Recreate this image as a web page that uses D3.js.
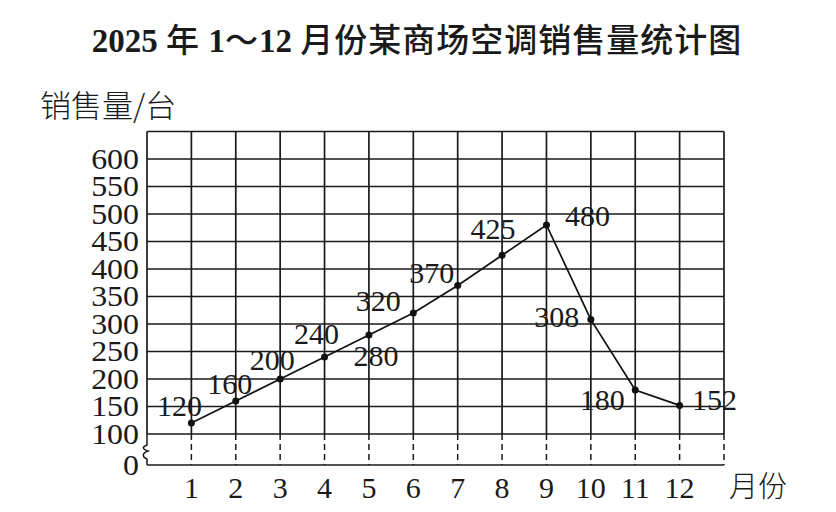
<!DOCTYPE html>
<html>
<head>
<meta charset="utf-8">
<script src="https://cdn.jsdelivr.net/npm/d3@7"></script>
<style>
    html, body { margin: 0; padding: 0; background: #fff; }
    svg { display: block; }
    .num { font-family: "Liberation Serif", "Times New Roman", serif; fill: #1a1a1a; }
    .cjk { font-family: "Noto Sans CJK SC", sans-serif; fill: #1a1a1a; }
</style>
</head>
<body>
<svg id="chart" width="836" height="512"></svg>
<script>
// dados
const months = [1, 2, 3, 4, 5, 6, 7, 8, 9, 10, 11, 12];
const sales = [120, 160, 200, 240, 280, 320, 370, 425, 480, 308, 180, 152];
const yTicks = [0, 100, 150, 200, 250, 300, 350, 400, 450, 500, 550, 600];
// título em pedaços: [texto, é número?]
const titleParts = [["2025 ", true], ["年 ", false], ["1", true], ["～", false], ["12 ", true], ["月份某商场空调销售量统计图", false]];
const yLabel = "销售量/台";
const xLabel = "月份";

// deslocamento de cada rótulo em relação ao ponto (layout apenas)
const labelOffsets = [
    [-12, -17], [-6, -17], [-8, -19], [-8, -23], [7, 21], [-35, -12],
    [-26, -13], [-9, -26], [41, -9], [-34, -3], [-33, 10], [35, -5]
];

const svg = d3.select('#chart');

// eixo x: 0..13 (bordas esquerda e direita da grade)
const x = d3.scaleLinear().domain([0, 13]).range([147, 724]);
// eixo y com quebra entre 0 e 100
const y = d3.scaleLinear().domain([0, 100, 650]).range([465, 434, 131.5]);

const gridColor = '#1a1a1a';
const grid = svg.append('g');

// linhas horizontais 100..650
grid.selectAll('.h')
    .data(d3.range(100, 651, 50))
    .enter().append('line')
    .attr('x1', x(0)).attr('x2', x(13))
    .attr('y1', d => y(d)).attr('y2', d => y(d))
    .attr('stroke', gridColor).attr('stroke-width', 1.7);

// linha de base (0)
grid.append('line')
    .attr('x1', x(0)).attr('x2', x(13))
    .attr('y1', y(0)).attr('y2', y(0))
    .attr('stroke', gridColor).attr('stroke-width', 1.7);

// linhas verticais: sólidas acima de 100, tracejadas abaixo
const cols = d3.range(0, 14);
grid.selectAll('.vs')
    .data(cols)
    .enter().append('line')
    .attr('x1', d => x(d)).attr('x2', d => x(d))
    .attr('y1', y(650)).attr('y2', y(100))
    .attr('stroke', gridColor).attr('stroke-width', 1.7);

grid.selectAll('.vd')
    .data(cols.filter(d => d > 0))
    .enter().append('line')
    .attr('x1', d => x(d)).attr('x2', d => x(d))
    .attr('y1', y(100)).attr('y2', y(0))
    .attr('stroke', gridColor).attr('stroke-width', 1.5)
    .attr('stroke-dasharray', '6,4');

// símbolo de quebra no eixo y
const bx = x(0), b0 = y(100), b1 = y(0);
grid.append('path')
    .attr('d', `M${bx},${b0} L${bx},${b0 + 11} C${bx - 5},${b0 + 13} ${bx - 5},${b0 + 15} ${bx + 1},${b0 + 17}
        C${bx - 5},${b0 + 19} ${bx - 5},${b0 + 23} ${bx},${b0 + 25} L${bx},${b1}`)
    .attr('fill', 'none').attr('stroke', gridColor).attr('stroke-width', 1.5);

// rótulos do eixo y (um pouco esticados na horizontal, como no original)
svg.selectAll('.ytick')
    .data(yTicks)
    .enter().append('text')
    .attr('class', 'num')
    .attr('transform', d => `translate(139,${y(d) + 9.5}) scale(1.1,1)`)
    .attr('text-anchor', 'end')
    .attr('font-size', 29)
    .text(d => d);

// rótulos do eixo x
svg.selectAll('.xtick')
    .data(months)
    .enter().append('text')
    .attr('class', 'num')
    .attr('x', d => x(d))
    .attr('y', 498)
    .attr('text-anchor', 'middle')
    .attr('font-size', 30)
    .text(d => d);

// linha dos dados
const line = d3.line()
    .x((d, i) => x(months[i]))
    .y(d => y(d));

svg.append('path')
    .datum(sales)
    .attr('d', line)
    .attr('fill', 'none')
    .attr('stroke', '#111')
    .attr('stroke-width', 1.7);

svg.selectAll('.dot')
    .data(sales)
    .enter().append('circle')
    .attr('cx', (d, i) => x(months[i]))
    .attr('cy', d => y(d))
    .attr('r', 3.5)
    .attr('fill', '#111');

// valores sobre os pontos
svg.selectAll('.val')
    .data(sales)
    .enter().append('text')
    .attr('class', 'num')
    .attr('x', (d, i) => x(months[i]) + labelOffsets[i][0])
    .attr('y', (d, i) => y(d) + labelOffsets[i][1] + 10)
    .attr('text-anchor', 'middle')
    .attr('font-size', 30)
    .text(d => d);

// título
const title = svg.append('text')
    .attr('x', 417)
    .attr('y', 52)
    .attr('text-anchor', 'middle')
    .attr('font-size', 33)
    .attr('fill', '#1a1a1a');

title.selectAll('tspan')
    .data(titleParts)
    .enter().append('tspan')
    .style('font-family', d => d[1] ? '"Liberation Serif", serif' : '"Noto Sans CJK SC", sans-serif')
    .attr('font-weight', d => d[1] ? 'bold' : 500)
    .attr('letter-spacing', d => d[1] ? 0 : 1)
    .text(d => d[0]);

// títulos dos eixos
svg.append('text')
    .attr('class', 'cjk')
    .attr('x', 40)
    .attr('y', 117)
    .attr('font-size', 31)
    .attr('font-weight', 300)
    .text(yLabel);

svg.append('text')
    .attr('class', 'cjk')
    .attr('x', 729)
    .attr('y', 497)
    .attr('font-size', 29)
    .attr('font-weight', 300)
    .text(xLabel);
</script>
</body>
</html>
